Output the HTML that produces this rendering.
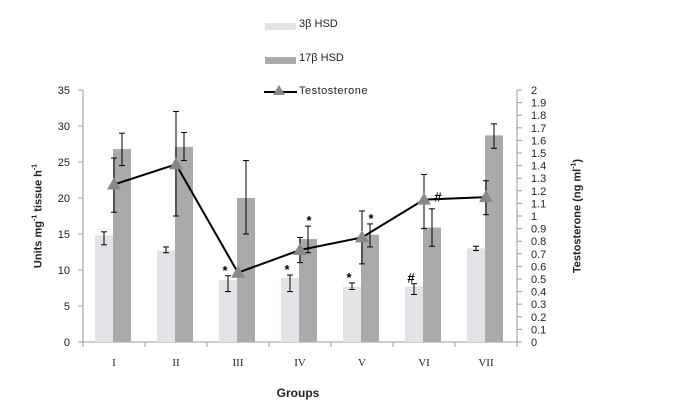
<!DOCTYPE html>
<html><head><meta charset="utf-8"><style>
body{margin:0;background:#fff;}
svg{display:block;font-family:"Liberation Sans",sans-serif;}
</style></head><body>
<svg id="c" width="679" height="410"></svg>
<script>
const groups=["I","II","III","IV","V","VI","VII"];
const hsd3=[14.8,12.7,8.6,8.9,7.7,7.7,13.0];
const hsd3Lo=[13.5,12.4,7.0,7.0,7.3,6.6,12.7];
const hsd3Hi=[15.3,13.2,9.2,9.3,8.2,8.1,13.3];
const hsd17=[26.8,27.1,20.0,14.3,14.9,15.9,28.7];
const hsd17Lo=[24.5,25.2,15.0,12.4,13.2,13.3,26.9];
const hsd17Hi=[29.0,29.1,25.2,16.1,16.4,18.5,30.3];
const testo=[1.25,1.41,0.55,0.73,0.83,1.13,1.15];
const testoLo=[1.03,1.0,0.55,0.63,0.62,0.9,1.01];
const testoHi=[1.46,1.83,0.55,0.83,1.04,1.33,1.28];
const mark3=["","","*","*","*","#",""];
const mark17=["","","","*","*","",""];
const markT=["","","","","","#",""];
const leftTicks=[0,5,10,15,20,25,30,35];
const rightTicks=[0,0.1,0.2,0.3,0.4,0.5,0.6,0.7,0.8,0.9,1,1.1,1.2,1.3,1.4,1.5,1.6,1.7,1.8,1.9,2];

const NS="http://www.w3.org/2000/svg";
const svg=document.getElementById('c');
const X0=83,X1=517,Y0=342,Y1=90;
const step=(X1-X0)/groups.length;
const cx=i=>X0+step*(i+0.5);
const yL=v=>Y0-(v/35)*(Y0-Y1);
const yR=v=>Y0-(v/2)*(Y0-Y1);
function el(t,a,txt){const e=document.createElementNS(NS,t);for(const k in a)e.setAttribute(k,a[k]);if(txt!==undefined)e.textContent=txt;svg.appendChild(e);return e;}
function err(x,lo,hi){
  const e1=el('line',{x1:x,x2:x,y1:lo,y2:hi,stroke:'#000','stroke-width':1});
  
  
  el('line',{x1:x-3,x2:x+3,y1:lo,y2:lo,stroke:'#000','stroke-width':1});
  el('line',{x1:x-3,x2:x+3,y1:hi,y2:hi,stroke:'#000','stroke-width':1});
}
// axes
let a=el('line',{x1:X0,x2:X0,y1:Y1,y2:Y0,stroke:'#999'});

a=el('line',{x1:X1,x2:X1,y1:Y1,y2:Y0,stroke:'#999'});

a=el('line',{x1:X0,x2:X1,y1:Y0,y2:Y0,stroke:'#999'});

leftTicks.forEach(v=>{
  el('line',{x1:X0-5,x2:X0,y1:yL(v),y2:yL(v),stroke:'#999'});
  const t=el('text',{x:X0-13,y:yL(v)+4,'text-anchor':'end','font-size':11,fill:'#222'},v);
  
});
rightTicks.forEach(v=>{
  el('line',{x1:X1,x2:X1+5,y1:yR(v),y2:yR(v),stroke:'#999'});
  const t=el('text',{x:X1+14,y:yR(v)+4,'font-size':11,fill:'#222'},String(v));
  
});
for(let i=0;i<=groups.length;i++){el('line',{x1:X0+step*i,x2:X0+step*i,y1:Y0,y2:Y0+5,stroke:'#999'});}
groups.forEach((g,i)=>{
  const t=el('text',{x:cx(i),y:Y0+24,'text-anchor':'middle','font-size':11,'font-family':'Liberation Serif',fill:'#222'},g);
  
});
// bars
groups.forEach((g,i)=>{
  const x=cx(i);
  let b=el('rect',{x:x-19,y:yL(hsd3[i]),width:18,height:Y0-yL(hsd3[i]),fill:'#e2e3e6'});
  
  b=el('rect',{x:x-1,y:yL(hsd17[i]),width:18,height:Y0-yL(hsd17[i]),fill:'#aaaaaa'});
  
  err(x-10,yL(hsd3Lo[i]),yL(hsd3Hi[i]));
  err(x+8,yL(hsd17Lo[i]),yL(hsd17Hi[i]));
  if(mark3[i]){el('text',{x:x-13,y:yL(hsd3Hi[i])-1,'text-anchor':'middle','font-size':13,'font-weight':'bold'},mark3[i]);}
  if(mark17[i]){el('text',{x:x+9,y:yL(hsd17Hi[i])-1,'text-anchor':'middle','font-size':13,'font-weight':'bold'},mark17[i]);}
});
// line
const pts=testo.map((v,i)=>cx(i)+','+yR(v)).join(' ');
let l=el('polyline',{points:pts,fill:'none',stroke:'#000','stroke-width':2});

testo.forEach((v,i)=>{
  const x=cx(i),y=yR(v);
  if(testoHi[i]!==testoLo[i])err(x,yR(testoLo[i]),yR(testoHi[i]));
  const p=el('polygon',{points:`${x},${y-7} ${x-7},${y+5} ${x+7},${y+5}`,fill:'#888'});
  
  if(markT[i])el('text',{x:x+14,y:y+2,'text-anchor':'middle','font-size':13,'font-weight':'bold'},markT[i]);
});
</script>
<svg width="0" height="0"></svg>
<div style="position:absolute;left:0;top:0;width:679px;height:410px;pointer-events:none;font-family:'Liberation Sans',sans-serif;">
  <div>
    <div style="position:absolute;left:265px;top:23px;width:31px;height:7px;background:#e2e3e6"></div>
    <div style="position:absolute;left:299px;top:18px;font-size:11px;color:#222">3β HSD</div>
    <div style="position:absolute;left:265px;top:57px;width:31px;height:7px;background:#aaa"></div>
    <div style="position:absolute;left:299px;top:52px;font-size:11px;color:#222">17β HSD</div>
    <div style="position:absolute;left:264px;top:91px;width:33px;height:2px;background:#000"></div>
    <div style="position:absolute;left:273px;top:85px;width:0;height:0;border-left:6px solid transparent;border-right:6px solid transparent;border-bottom:10px solid #888"></div>
    <div style="position:absolute;left:299px;top:85px;font-size:11px;color:#222;letter-spacing:0.5px">Testosterone</div>
  </div>
  <div style="position:absolute;left:38px;top:216px;transform:translate(-50%,-50%) rotate(-90deg);white-space:nowrap;font-size:11px;font-weight:bold;color:#222">Units mg<sup style="font-size:7px">-1</sup> tissue h<sup style="font-size:7px">-1</sup></div>
  <div style="position:absolute;left:577px;top:216px;transform:translate(-50%,-50%) rotate(-90deg);white-space:nowrap;font-size:11px;font-weight:bold;color:#222">Testosterone (ng ml<sup style="font-size:7px">-1</sup>)</div>
  <div style="position:absolute;left:298px;top:386px;transform:translateX(-50%);font-size:12px;font-weight:bold;color:#222">Groups</div>
</div>
</body></html>
